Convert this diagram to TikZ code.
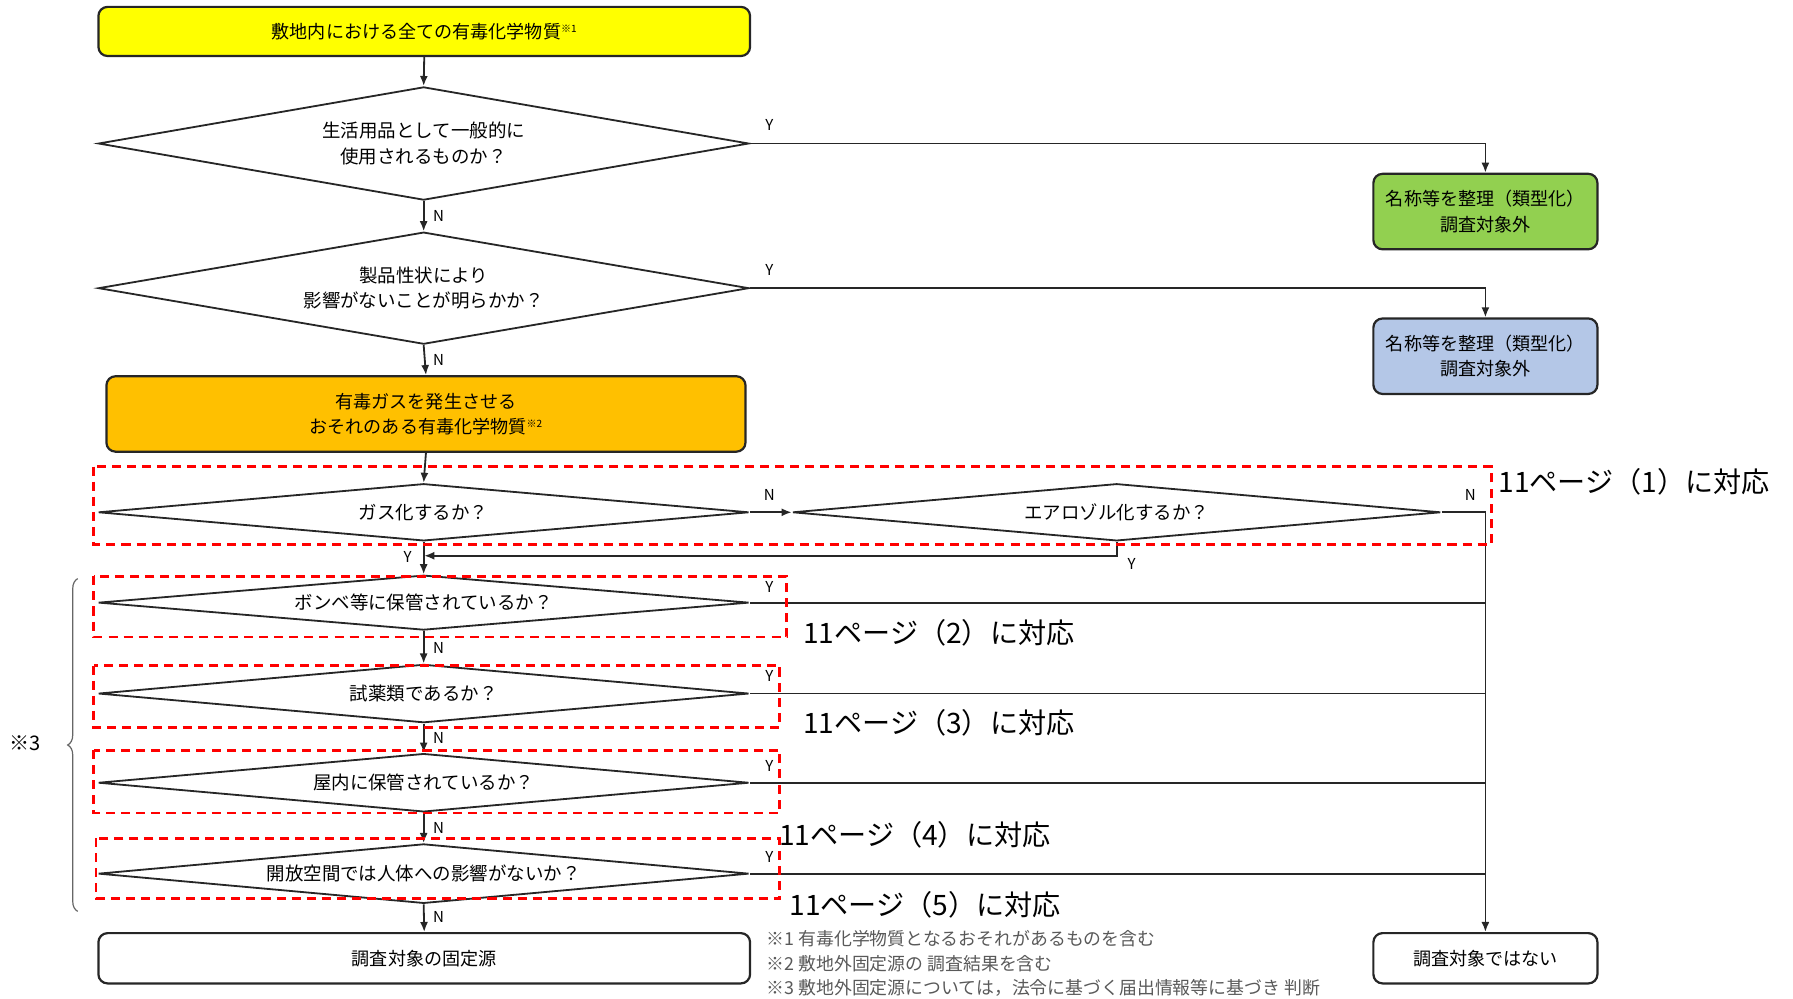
\documentclass[tikz,border=0pt]{standalone}
\usepackage{fontspec}
\setmainfont{Noto Sans CJK JP}
\usetikzlibrary{shapes,positioning,calc,arrows.meta,decorations.pathreplacing}

\definecolor{boxyellow}{HTML}{FFFF00}
\definecolor{boxorange}{HTML}{FFC000}
\definecolor{boxgreen}{HTML}{92D050}
\definecolor{boxblue}{HTML}{B4C7E7}
\definecolor{linegray}{HTML}{262626}

\newcommand{\noteref}[1]{\raisebox{0.6ex}{\fontsize{5pt}{6pt}\selectfont ※#1}}

\begin{document}
\begin{tikzpicture}[x=0.02cm, y=-0.02cm, >={Latex[length=5pt,width=4pt]}]

        % Styles of the boxes, the questions and the labels
        \tikzset{
            box/.style={draw=linegray, line width=1.1pt, rounded corners=0.16cm,
                align=center, inner sep=0pt, font=\fontsize{9pt}{12.5pt}\selectfont},
            question/.style={draw=linegray, line width=0.9pt, shape=diamond,
                inner sep=0pt, align=center, font=\fontsize{9.2pt}{12.5pt}\selectfont},
            yn/.style={inner sep=0pt, font=\fontsize{7.5pt}{8pt}\selectfont},
            link/.style={draw=linegray, line width=0.9pt},
            area/.style={draw=red, line width=1.4pt, dash pattern=on 4.5pt off 3pt},
            pagenote/.style={anchor=west, inner sep=0pt, font=\fontsize{14pt}{16pt}\selectfont},
            footnote/.style={anchor=west, inner sep=0pt, text=black!65,
                font=\fontsize{8.9pt}{10pt}\selectfont},
        }

        % Fixes the margins of the page
        \useasboundingbox (0, 0) rectangle (1568, 873);

        % Boxes
        \node[box, fill=boxyellow, minimum width=11.4cm, minimum height=0.86cm]
            (start) at (371, 27.5) {敷地内における全ての有毒化学物質\noteref{1}};
        \node[box, fill=boxgreen, minimum width=3.92cm, minimum height=1.32cm]
            (ok1) at (1299, 185) {名称等を整理（類型化）\\調査対象外};
        \node[box, fill=boxblue, minimum width=3.92cm, minimum height=1.32cm]
            (ok2) at (1299, 311.5) {名称等を整理（類型化）\\調査対象外};
        \node[box, fill=boxorange, minimum width=11.18cm, minimum height=1.32cm]
            (gas) at (372.5, 362) {有毒ガスを発生させる\\おそれのある有毒化学物質\noteref{2}};
        \node[box, fill=white, minimum width=11.4cm, minimum height=0.88cm]
            (target) at (371, 838) {調査対象の固定源};
        \node[box, fill=white, minimum width=3.92cm, minimum height=0.88cm]
            (nottarget) at (1299, 838) {調査対象ではない};

        % Questions
        \node[question, aspect=5.75, minimum width=11.38cm, minimum height=1.98cm]
            (q1) at (370.5, 125.5) {生活用品として一般的に\\使用されるものか？};
        \node[question, aspect=5.75, minimum width=11.38cm, minimum height=1.96cm]
            (q2) at (370.5, 252) {製品性状により\\影響がないことが明らかか？};
        \node[question, aspect=11.4, minimum width=11.38cm, minimum height=1cm]
            (qgas) at (370.5, 448) {ガス化するか？};
        \node[question, aspect=11.4, minimum width=11.34cm, minimum height=1cm]
            (qaer) at (976.5, 448) {エアロゾル化するか？};
        \node[question, aspect=11.4, minimum width=11.38cm, minimum height=0.96cm]
            (qbombe) at (370.5, 527) {ボンベ等に保管されているか？};
        \node[question, aspect=11.4, minimum width=11.38cm, minimum height=1.02cm]
            (qreag) at (370.5, 606.5) {試薬類であるか？};
        \node[question, aspect=11.4, minimum width=11.38cm, minimum height=1.02cm]
            (qindoor) at (370.5, 684.5) {屋内に保管されているか？};
        \node[question, aspect=11.4, minimum width=11.38cm, minimum height=1.04cm]
            (qopen) at (370.5, 764) {開放空間では人体への影響がないか？};

        % Where the Y of the aerosol question comes back
        \coordinate (back) at (371, 486);

        % Main column
        \begin{scope}[link]
            \draw[->] (start.south) -- (q1.north);
            \draw[->] (q1.south) -- (q2.north);
            \draw[->] (q2.south) -- (gas.north);
            \draw[->] (gas.south) -- (qgas.north);
            \draw[->] (qgas.south) -- (qbombe.north);
            \draw[->] (qbombe.south) -- (qreag.north);
            \draw[->] (qreag.south) -- (qindoor.north);
            \draw[->] (qindoor.south) -- (qopen.north);
            \draw[->] (qopen.south) -- (target.north);

            \draw[->] (q1.east) -| (ok1.north);
            \draw[->] (q2.east) -| (ok2.north);
            \draw[->] (qgas.east) -- (qaer.west);
            \draw[->] (qaer.east) -| (nottarget.north);
            \draw[->] (qaer.south) |- (back);

            \draw (qbombe.east) -- (qbombe.east -| nottarget.north);
            \draw (qreag.east) -- (qreag.east -| nottarget.north);
            \draw (qindoor.east) -- (qindoor.east -| nottarget.north);
            \draw (qopen.east) -- (qopen.east -| nottarget.north);
        \end{scope}

        % Y and N
        \node[yn] at ($(q1.east)+(17,-16)$) {Y};
        \node[yn] at ($(q2.east)+(17,-16)$) {Y};
        \node[yn] at ($(qgas.east)+(17,-15)$) {N};
        \node[yn] at ($(qaer.east)+(25,-15)$) {N};
        \node[yn] at ($(qaer.south)+(13,19)$) {Y};
        \node[yn] at ($(qbombe.east)+(17,-14)$) {Y};
        \node[yn] at ($(qreag.east)+(17,-15)$) {Y};
        \node[yn] at ($(qindoor.east)+(17,-15)$) {Y};
        \node[yn] at ($(qopen.east)+(17,-15)$) {Y};
        \node[yn] at ($(q1.south)+(13,13)$) {N};
        \node[yn] at ($(q2.south)+(13,13)$) {N};
        \node[yn] at ($(qgas.south)+(-14,13)$) {Y};
        \node[yn] at ($(qbombe.south)+(13,15)$) {N};
        \node[yn] at ($(qreag.south)+(13,13)$) {N};
        \node[yn] at ($(qindoor.south)+(13,13)$) {N};
        \node[yn] at ($(qopen.south)+(13,11)$) {N};

        % Red areas and the pages they refer to
        \draw[area] (82, 408) rectangle (1304, 476);
        \draw[area] (82, 504) rectangle (688, 557);
        \draw[area] (82, 582) rectangle (682, 636);
        \draw[area] (82, 656) rectangle (682, 711);
        \draw[area] (84, 733) rectangle (682, 786);

        \node[pagenote] (page1) at (1310, 421) {11ページ（1）に対応};
        \node[pagenote] (page2) at (702, 553) {11ページ（2）に対応};
        \node[pagenote] (page3) at (702, 632) {11ページ（3）に対応};
        \node[pagenote] (page4) at (681, 730) {11ページ（4）に対応};
        \node[pagenote] (page5) at (690, 791) {11ページ（5）に対応};

        % Brace over the lower questions
        \draw[black!60, line width=0.6pt, decorate, decoration={brace, amplitude=5pt}]
            (68, 797) -- (68, 506);
        \node[inner sep=0pt, font=\fontsize{10pt}{11pt}\selectfont] (mark3) at (22, 650) {※3};

        % Notes
        \node[footnote] (note1) at (670, 821) {※1 有毒化学物質となるおそれがあるものを含む};
        \node[footnote] (note2) at (670, 843) {※2 敷地外固定源の 調査結果を含む};
        \node[footnote] (note3) at (670, 864) {※3 敷地外固定源については，法令に基づく届出情報等に基づき 判断};
\end{tikzpicture}
\end{document}
